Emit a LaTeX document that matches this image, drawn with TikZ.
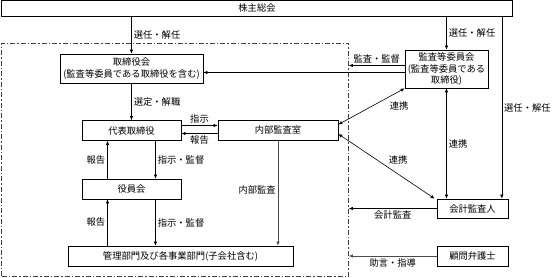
\documentclass[tikz,border=0pt]{standalone}
\usepackage{fontspec}
\newfontfamily\jpfont{Noto Sans CJK JP}
\usetikzlibrary{arrows.meta,positioning}

\begin{document}
\begin{tikzpicture}[x=1pt, y=-1pt,
  box/.style={draw, line width=0.7pt, inner sep=0pt, align=center, font=\jpfont\fontsize{9.3}{11.5}\selectfont},
  arr/.style={-{Latex[length=4pt,width=3.5pt]}, line width=0.6pt},
  darr/.style={{Latex[length=4pt,width=3.5pt]}-{Latex[length=4pt,width=3.5pt]}, line width=0.6pt},
  lbl/.style={font=\jpfont\fontsize{9.3}{11}\selectfont, inner sep=2pt},
  auditframe/.style={draw=black!75, line width=0.7pt, dash pattern=on 5pt off 2pt on 1.5pt off 2pt}
]
\useasboundingbox (0,0) rectangle (552,278);
% company frame
\node[auditframe, minimum width=347pt, minimum height=233pt, inner sep=0pt] (company) at (175,159.5) {};

\node[box, minimum width=511pt, minimum height=16pt] (agm) at (257,8) {株主総会};
\node[box, minimum width=143pt, minimum height=29pt] (board) at (131.5,68.5) {取締役会\\(監査等委員である取締役を含む)};
\node[box, minimum width=99pt, minimum height=20pt] (ceo) at (131.5,130.5) {代表取締役};
\node[box, minimum width=120pt, minimum height=20pt] (iaudit) at (278,130) {内部監査室};
\node[box, minimum width=99pt, minimum height=20pt] (officers) at (131.5,189) {役員会};
\node[box, minimum width=225pt, minimum height=20pt] (depts) at (180.5,256) {管理部門及び各事業部門(子会社含む)};
\node[box, minimum width=83pt, minimum height=38pt] (acc) at (446.5,69) {監査等委員会\\(監査等委員である\\取締役)};
\node[box, minimum width=71pt, minimum height=19pt] (extaud) at (472.5,208.5) {会計監査人};
\node[box, minimum width=71pt, minimum height=20pt] (lawyer) at (472.5,256) {顧問弁護士};

% helper points
\coordinate (up) at ([xshift=-24pt]ceo.south);
\coordinate (down) at ([xshift=24pt]ceo.south);
\coordinate (rline) at ([xshift=-6.5pt]extaud.north east);
\coordinate (supv) at ([yshift=3.5pt]acc.west);
\coordinate (coop) at ([yshift=-3.5pt]acc.west);
\coordinate (ord) at ([yshift=5pt]ceo.east);
\coordinate (rep) at ([yshift=-3pt]ceo.east);

% shareholders
\draw[arr] (board.north |- agm.south) -- (board.north) node[lbl, midway, right] {選任・解任};
\draw[arr] (acc.north |- agm.south) -- (acc.north) node[lbl, midway, right] {選任・解任};
\draw[arr] (rline |- agm.south) -- (rline) node[lbl, midway, right] {選任・解任};

% inside the company
\draw[arr] (board) -- (ceo) node[lbl, midway, right] {選定・解職};
\draw[arr] (ord) -- (ord -| iaudit.west) node[lbl, midway, above] {指示};
\draw[arr] (rep -| iaudit.west) -- (rep) node[lbl, midway, below] {報告};
\draw[arr] (up |- officers.north) -- (up) node[lbl, midway, left] {報告};
\draw[arr] (down) -- (down |- officers.north) node[lbl, midway, right] {指示・監督};
\draw[arr] (up |- depts.north) -- (up |- officers.south) node[lbl, midway, left] {報告};
\draw[arr] (down |- officers.south) -- (down |- depts.north) node[lbl, midway, right] {指示・監督};
\draw[arr, draw=black!70] (iaudit.south) -- (iaudit.south |- depts.north) node[lbl, pos=0.47, left] {内部監査};

% audit committee
\draw[arr] (supv) -- (supv -| company.east) node[lbl, midway, above] {監査・監督};
\draw[arr] (coop) -- (coop -| board.east);
\draw[darr] (acc.south west) -- ([yshift=5.5pt]iaudit.east) node[lbl, midway, right=16pt] {連携};
\draw[darr] ([yshift=-4pt]iaudit.east) -- ([xshift=-2pt]extaud.north west) node[lbl, midway, above right] {連携};
\draw[darr] (acc.south) -- (acc.south |- extaud.north) node[lbl, midway, right] {連携};

% outside parties
\draw[arr] (extaud.west) -- (extaud.west -| company.east) node[lbl, midway, below] {会計監査};
\draw[arr, draw=black!70] (lawyer.west) -- (lawyer.west -| company.east) node[lbl, midway, below] {助言・指導};
\end{tikzpicture}
\end{document}
